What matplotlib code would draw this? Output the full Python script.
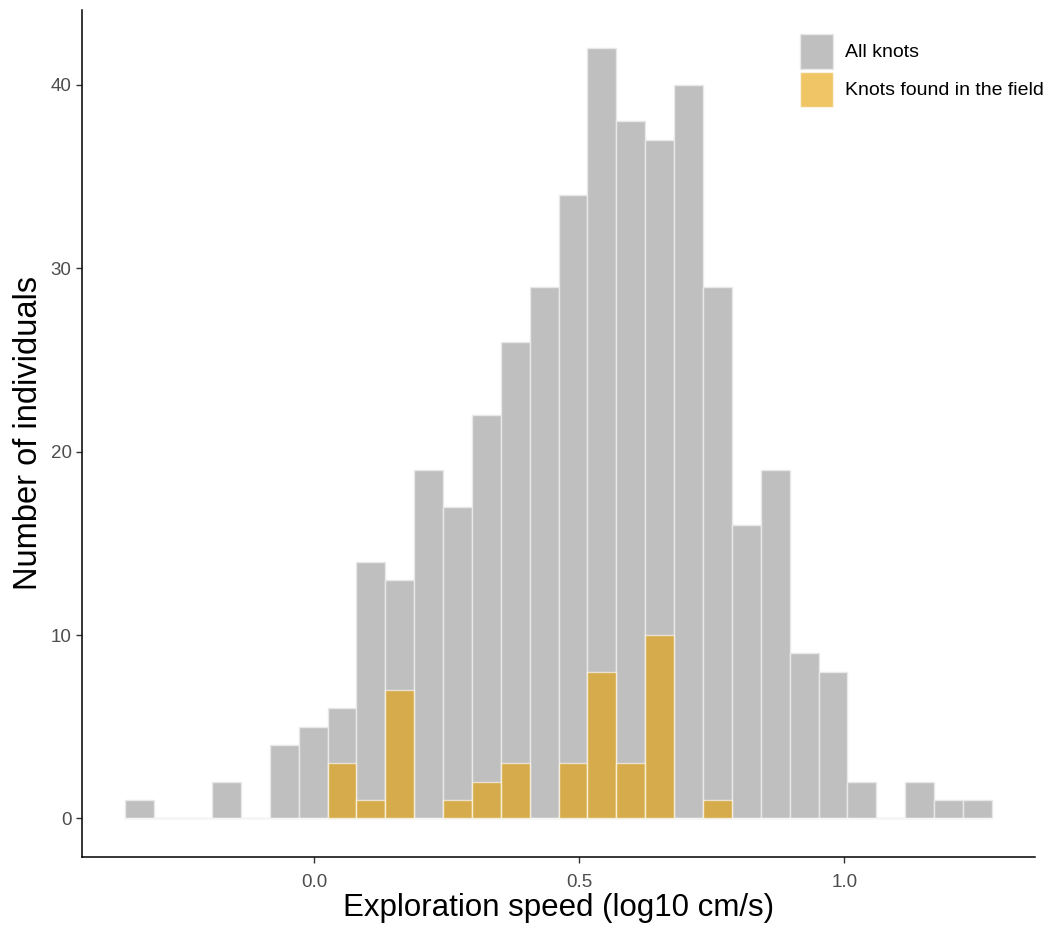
import numpy as np
import matplotlib.pyplot as plt

plt.rcParams['font.family'] = ['Liberation Sans', 'DejaVu Sans']

# histogram: 30 bins
bin_start = -0.357
bin_width = 0.05452
all_knots = [1, 0, 0, 2, 0, 4, 5, 6, 14, 13, 19, 17, 22, 26, 29,
             34, 42, 38, 37, 40, 29, 16, 19, 9, 8, 2, 0, 2, 1, 1]
field_knots = [0, 0, 0, 0, 0, 0, 0, 3, 1, 7, 0, 1, 2, 3, 0,
               3, 8, 3, 10, 0, 1, 0, 0, 0, 0, 0, 0, 0, 0, 0]

lefts = bin_start + bin_width * np.arange(len(all_knots))

fig = plt.figure(figsize=(10.51, 9.31), dpi=100)
ax = fig.add_axes([0.078, 0.0795, 0.907, 0.9102])

ax.bar(lefts, all_knots, width=bin_width, align='edge', color='#BFBFBF',
       edgecolor='#E8E8E8', linewidth=1.0, label='All knots')
ax.bar(lefts, field_knots, width=bin_width, align='edge', color='#E69F00',
       alpha=0.6, edgecolor='#FFFFFF', linewidth=1.0, label='Knots found in the field')
# zero-height bins show as a faint line
ax.hlines(0, lefts[0], lefts[-1] + bin_width, color='#E8E8E8', lw=1.0, zorder=0.5)

span = bin_width * len(all_knots)
ax.set_xlim(bin_start - 0.05 * span, bin_start + 1.05 * span)
ax.set_ylim(-2.1, 44.1)
ax.set_xticks([0.0, 0.5, 1.0])
ax.set_xticklabels(['0.0', '0.5', '1.0'])
ax.set_yticks([0, 10, 20, 30, 40])

for s in ['top', 'right']:
    ax.spines[s].set_visible(False)
for s in ['left', 'bottom']:
    ax.spines[s].set_linewidth(1.1)
ax.tick_params(axis='both', colors='#333333', labelcolor='#4D4D4D',
               labelsize=13.5, length=4, width=1.0)
ax.tick_params(axis='x', pad=8)

ax.set_xlabel('Exploration speed (log10 cm/s)', fontsize=22.5, labelpad=2)
ax.set_ylabel('Number of individuals', fontsize=23.5, labelpad=5)

# tall square keys like ggplot's legend
ax.legend(loc='upper left', bbox_to_anchor=(0.7534, 0.9712), frameon=False,
          fontsize=14, handlelength=1.7, handleheight=2.39,
          handletextpad=0.6, labelspacing=0.15, borderpad=0, borderaxespad=0)

fig.savefig('out.png', dpi=100)
